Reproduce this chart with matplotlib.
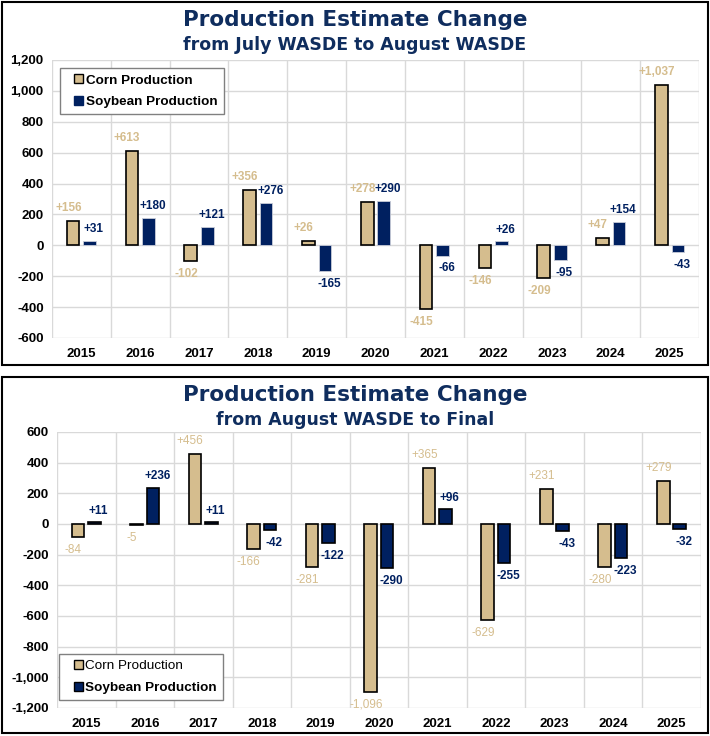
"""Production estimate change: corn vs soybean, two WASDE comparison panels."""
import matplotlib
matplotlib.use('Agg')
import matplotlib.pyplot as plt
from matplotlib.patches import Patch, Rectangle
from matplotlib.legend_handler import HandlerPatch
import numpy as np

years = ['2015', '2016', '2017', '2018', '2019', '2020',
         '2021', '2022', '2023', '2024', '2025']

# July WASDE -> August WASDE (million bushels)
corn_jul_aug = [156, 613, -102, 356, 26, 278, -415, -146, -209, 47, 1037]
soy_jul_aug = [31, 180, 121, 276, -165, 290, -66, 26, -95, 154, -43]

# August WASDE -> Final
corn_aug_final = [-84, -5, 456, -166, -281, -1096, 365, -629, 231, -280, 279]
soy_aug_final = [11, 236, 11, -42, -122, -290, 96, -255, -43, -223, -32]

CORN = '#D5BD8E'
SOY = '#002060'
TITLE = '#0F2D5E'
GRID = '#D9D9D9'
FONT = 'Liberation Sans'

W, H = 710, 736


def fig_rect(x0, y0, x1, y1):
    """Pixel box (top-left origin) -> figure fraction [left, bottom, w, h]."""
    return [x0 / W, 1 - y1 / H, (x1 - x0) / W, (y1 - y0) / H]


def square_right(legend, orig_handle, xdescent, ydescent, width, height, fontsize):
    # small square key pushed to the right of the handle box (Excel-like padding)
    s = height * 0.95
    return Rectangle((width - s - xdescent, -ydescent + (height - s) / 2), s, s)


def draw_panel(ax, corn, soy, ylim, yticks, corn_bold, soy_edge):
    x = np.arange(len(years))
    w = 0.215
    off = 0.14
    ax.bar(x - off, corn, w, color=CORN, edgecolor='black', linewidth=1.2, zorder=3)
    ax.bar(x + off, soy, w, color=SOY,
           edgecolor='black' if soy_edge else '#C8CCD8',
           linewidth=1.2 if soy_edge else 0.6, zorder=3)

    for xi, v in zip(x, corn):
        ax.annotate(f'{v:+,}', (xi - off, v), xytext=(-3.5, 5 if v >= 0 else -5),
                    textcoords='offset points', ha='center',
                    va='bottom' if v >= 0 else 'top', color=CORN,
                    fontsize=8.5, fontweight='bold' if corn_bold else 'normal',
                    family=FONT, zorder=4)
    for xi, v in zip(x, soy):
        ax.annotate(f'{v:+,}', (xi + off, v), xytext=(3, 4 if v >= 0 else -5),
                    textcoords='offset points', ha='center',
                    va='bottom' if v >= 0 else 'top', color=SOY,
                    fontsize=8.5, fontweight='bold', family=FONT, zorder=4)

    ax.set_xlim(-0.5, len(years) - 0.5)
    ax.set_ylim(*ylim)
    ax.set_yticks(yticks)
    ax.set_yticklabels([f'{t:,}' for t in yticks], fontsize=9.5, fontweight='bold',
                       family=FONT)
    ax.set_xticks(x)
    ax.set_xticklabels(years, fontsize=9.5, fontweight='bold', family=FONT)
    ax.set_xticks(np.arange(-0.5, len(years)), minor=True)
    ax.tick_params(axis='both', which='both', length=0)
    ax.tick_params(axis='x', pad=7)
    ax.tick_params(axis='y', pad=6)
    ax.grid(axis='y', which='major', color=GRID, linewidth=1, zorder=0)
    ax.grid(axis='x', which='minor', color=GRID, linewidth=1, zorder=0)
    ax.grid(axis='x', which='major', visible=False)
    for s in ax.spines.values():
        s.set_visible(False)


def add_legend(ax, soy_edge, corn_weight, anchor, loc):
    handles = [Patch(facecolor=CORN, edgecolor='black', linewidth=1.0,
                     label='Corn Production'),
               Patch(facecolor=SOY, edgecolor='black' if soy_edge else SOY,
                     linewidth=1.0, label='Soybean Production')]
    leg = ax.legend(handles=handles, loc=loc, bbox_to_anchor=anchor, borderaxespad=0,
                    fancybox=False, edgecolor='#808080', framealpha=1,
                    handlelength=1.3, handleheight=0.7, handletextpad=0.2,
                    borderpad=0.45, labelspacing=0.7,
                    handler_map={Patch: HandlerPatch(patch_func=square_right)},
                    prop={'family': FONT, 'size': 9.7, 'weight': 'bold'})
    leg.get_frame().set_linewidth(1.0)
    leg.get_texts()[0].set_fontweight(corn_weight)
    return leg


fig = plt.figure(figsize=(W / 100, H / 100), dpi=100)

# outer frames
for y0, y1 in [(2, 365), (377, 733)]:
    fig.patches.append(Rectangle((2 / W, 1 - y1 / H), 706 / W, (y1 - y0) / H,
                                 transform=fig.transFigure, fill=False,
                                 edgecolor='black', linewidth=1.5))

# top panel
ax1 = fig.add_axes(fig_rect(52, 60, 699, 338))
draw_panel(ax1, corn_jul_aug, soy_jul_aug, (-600, 1200),
           list(range(-600, 1201, 200)), corn_bold=True, soy_edge=False)
fig.text(0.5, 1 - 20 / H, 'Production Estimate Change', ha='center', va='center',
         fontsize=15.5, fontweight='bold', color=TITLE, family='DejaVu Sans')
fig.text(0.5, 1 - 45 / H, 'from July WASDE to August WASDE', ha='center',
         va='center', fontsize=12.5, fontweight='bold', color=TITLE,
         family='DejaVu Sans')
add_legend(ax1, False, 'bold', (0.012, 0.971), 'upper left')

# bottom panel
ax2 = fig.add_axes(fig_rect(57, 432, 700.7, 708))
draw_panel(ax2, corn_aug_final, soy_aug_final, (-1200, 600),
           list(range(-1200, 601, 200)), corn_bold=False, soy_edge=True)
fig.text(0.5, 1 - 395 / H, 'Production Estimate Change', ha='center', va='center',
         fontsize=15.5, fontweight='bold', color=TITLE, family='DejaVu Sans')
fig.text(0.5, 1 - 420 / H, 'from August WASDE to Final', ha='center',
         va='center', fontsize=12.5, fontweight='bold', color=TITLE,
         family='DejaVu Sans')
add_legend(ax2, True, 'normal', (0.003, 0.029), 'lower left')

fig.savefig('out.png', dpi=100)
